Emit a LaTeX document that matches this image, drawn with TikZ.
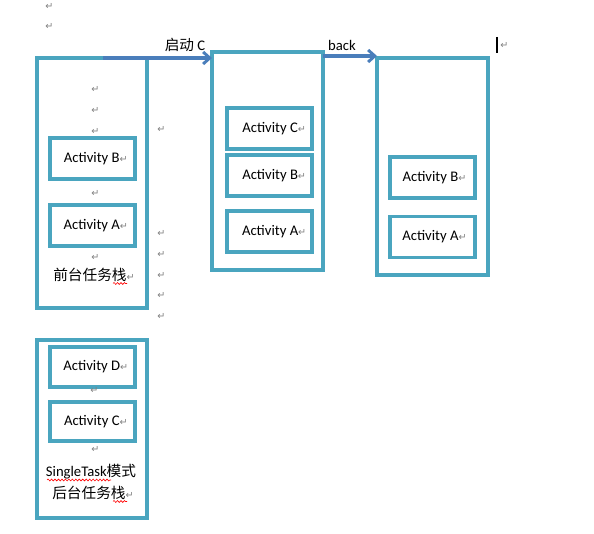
\documentclass[tikz,border=0pt]{standalone}
\usepackage{fontspec}
\setmainfont{Carlito}
\newfontfamily\cjk{Noto Sans CJK SC}
\newfontfamily\dvfont{DejaVu Sans}
\usetikzlibrary{arrows.meta,decorations.pathmorphing}
\definecolor{boxc}{HTML}{4AA5BF}
\definecolor{arrc}{HTML}{4A7EBB}
\definecolor{retc}{HTML}{7F7F7F}
\newcommand{\retmk}{{\dvfont\fontsize{7.2}{7.2}\selectfont\color{retc}↵}}
\tikzset{
  stackbox/.style 2 args={draw=boxc, line width=2.6pt, minimum width={#1*0.75pt}, minimum height={#2*0.75pt}, inner sep=0pt, outer sep=0pt},
  actbox/.style={draw=boxc, line width=2.6pt, minimum width={85*0.75pt}, minimum height={41*0.75pt}, inner sep=0pt, outer sep=0pt},
  retnode/.style={anchor=west, inner sep=0pt},
  arr/.style={draw=arrc, line width=2.4pt, -{Straight Barb[length=5pt,width=9pt,line width=2.2pt]}},
  lbl/.style={inner sep=0pt},
  spell/.style={draw=red, line width=0.45pt, decorate, decoration={snake, amplitude=0.7pt, segment length=2.6pt}},
}
\begin{document}
\begin{tikzpicture}[x=0.75pt, y=-0.75pt, font=\fontsize{11}{13}\selectfont]
\useasboundingbox (0,0) rectangle (594,534);

% stacks
\node[stackbox={110}{250}] (s1) at (92,183) {};
\node[stackbox={110}{178}] (s2) at (92,429) {};
\node[stackbox={111}{218}] (s3) at (267.5,161) {};
\node[stackbox={111}{217}] (s4) at (432.5,166.5) {};

% activities
\node[actbox] (a1B) at (92.5,158.5) {\hspace{5pt}Activity B\retmk};
\node[actbox] (a1A) at (92.5,225.5) {\hspace{5pt}Activity A\retmk};
\node[actbox, minimum height={40*0.75pt}] (a2D) at (92.5,367) {\hspace{5pt}Activity D\retmk};
\node[actbox, minimum height={39*0.75pt}] (a2C) at (92.5,421.5) {\hspace{5pt}Activity C\retmk};
\node[actbox] (a3C) at (269.5,128.5) {\hspace{7pt}Activity C\retmk};
\node[actbox] (a3B) at (269.5,175.5) {\hspace{7pt}Activity B\retmk};
\node[actbox] (a3A) at (269.5,231.5) {\hspace{7pt}Activity A\retmk};
\node[actbox] (a4B) at (432.5,177.5) {\hspace{3pt}Activity B\retmk};
\node[actbox] (a4A) at (432.5,237) {\hspace{3pt}Activity A\retmk};

% stack captions
\node[lbl] (cap1) at (94,275) {{\cjk 前台任务栈}\retmk};
\node[lbl] (cap2a) at (91,472) {SingleTask{\cjk 模式}};
\node[lbl] (cap2b) at (93,493) {{\cjk 后台任务栈}\retmk};
\draw[spell] (113,283.5) -- (127,283.5);
\draw[spell] (47,480) -- (111,480);
\draw[spell] (113,501.5) -- (127,501.5);

% arrows
\coordinate (p1) at (103,58);
\draw[arr] (p1) -- (p1 -| s3.west);
\coordinate (p2) at (323,56);
\draw[arr] (p2) -- (p2 -| s4.west);
\node[lbl] (l1) at (185,45) {{\cjk 启动} C};
\node[lbl] (l2) at (342,45) {back};

% cursor
\coordinate (cu1) at (497,37);
\coordinate (cu2) at (497,53);
\draw[line width=1.3pt] (cu1) -- (cu2);
\node[retnode] (rc) at (500,45) {\retmk};

% paragraph marks
\node[retnode] (r1) at (45,6) {\retmk};
\node[retnode] (r2) at (45,26) {\retmk};
\node[retnode] (r3) at (91,89) {\retmk};
\node[retnode] (r4) at (91,110) {\retmk};
\node[retnode] (r5) at (91,131) {\retmk};
\node[retnode] (r6) at (157,129) {\retmk};
\node[retnode] (r7) at (91,193) {\retmk};
\node[retnode] (r8) at (91,257) {\retmk};
\node[retnode] (r9) at (157,233) {\retmk};
\node[retnode] (r10) at (157,254) {\retmk};
\node[retnode] (r11) at (157,275) {\retmk};
\node[retnode] (r12) at (157,295) {\retmk};
\node[retnode] (r13) at (157,316) {\retmk};
\node[retnode] (r14) at (90,390) {\retmk};
\node[retnode] (r15) at (91,449) {\retmk};
\end{tikzpicture}
\end{document}
